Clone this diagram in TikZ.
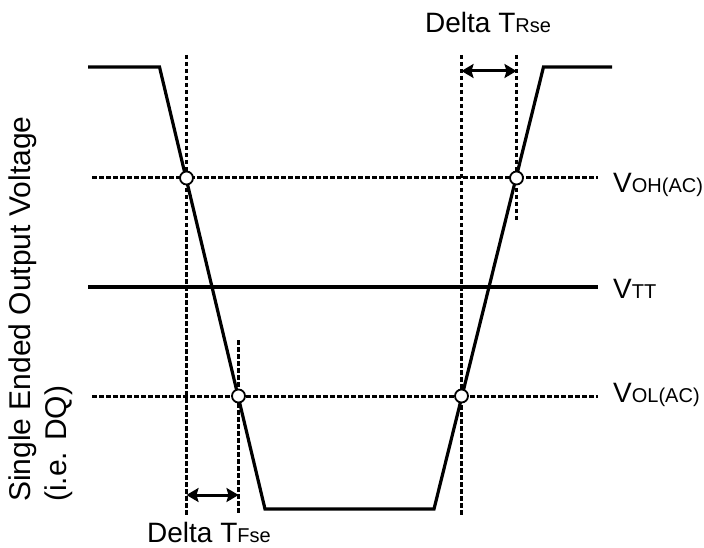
\documentclass[tikz,border=0pt]{standalone}
\usepackage{fontspec}
\setmainfont{Liberation Sans}
\usetikzlibrary{arrows.meta}
\newcommand{\bigtxt}{\fontsize{28}{36}\selectfont}
\newcommand{\smalltxt}{\fontsize{20}{24}\selectfont}
\newcommand{\sublabel}[2]{{\bigtxt #1}{\smalltxt #2}}
\begin{document}
\begin{tikzpicture}[x=1pt, y=-1pt, >={Stealth[length=12pt, width=14pt, inset=2pt]},
	wave/.style={line width=3.2pt, line join=miter},
	level/.style={line width=3pt, dash pattern=on 4.5pt off 2.5pt},
	crossing/.style={circle, draw, fill=white, line width=1.8pt, minimum size=13pt, inner sep=0pt},
	lbl/.style={anchor=base west, inner sep=0pt}]
	\useasboundingbox (0,0) rectangle (704,548);
	% Ausgangssignal
	\coordinate (w0) at (88,67);
	\coordinate (w1) at (159.5,67);
	\coordinate (w2) at (265,509);
	\coordinate (w3) at (434,509);
	\coordinate (w4) at (543.5,67);
	\coordinate (w5) at (612,67);
	% Pegel
	\coordinate (ohL) at (92,178);
	\coordinate (ttL) at (88,287);
	\coordinate (olL) at (92,396);
	\node[lbl] (voh) at (613,193) {\sublabel{V}{OH(AC)}};
	\node[lbl] (vtt) at (613,298) {\sublabel{V}{TT}};
	\node[lbl] (vol) at (613,402) {\sublabel{V}{OL(AC)}};
	\draw[level, shorten >=15pt] (ohL) -- (ohL -| voh.west);
	\draw[wave, shorten >=15pt] (ttL) -- (ttL -| vtt.west);
	\draw[level, shorten >=15pt] (olL) -- (olL -| vol.west);
	\draw[wave] (w0) -- (w1) -- (w2) -- (w3) -- (w4) -- (w5);
	% Messlinien
	\coordinate (t1) at (186.5,55);  \coordinate (b1) at (186.5,515);
	\coordinate (t2) at (238.5,340); \coordinate (b2) at (238.5,515);
	\coordinate (t3) at (461.5,55);  \coordinate (b3) at (461.5,517);
	\coordinate (t4) at (516.5,55);  \coordinate (b4) at (516.5,222);
	\foreach \i in {1,...,4} {
		\draw[level] (t\i) -- (b\i);
	}
	\node[crossing] (c1) at (186.5,178) {};
	\node[crossing] (c2) at (238.5,396) {};
	\node[crossing] (c3) at (461.5,396) {};
	\node[crossing] (c4) at (516.5,178) {};
	% Delta T
	\coordinate (fa) at (186.5,495); \coordinate (fb) at (238.5,495);
	\coordinate (ra) at (461.5,71);  \coordinate (rb) at (516.5,71);
	\draw[<->, line width=3pt] (fa) -- (fb);
	\draw[<->, line width=3pt] (ra) -- (rb);
	\node[lbl] (dtr) at (425,33) {\sublabel{Delta T}{Rse}};
	\node[lbl] (dtf) at (147,542) {\sublabel{Delta T}{Fse}};
	% Achsentitel (base = letzte Zeile)
	\node[lbl, rotate=90, align=left, font=\fontsize{30}{36}\selectfont] (ylab) at (66,502) {Single Ended Output Voltage\\(i.e. DQ)};
\end{tikzpicture}
\end{document}
